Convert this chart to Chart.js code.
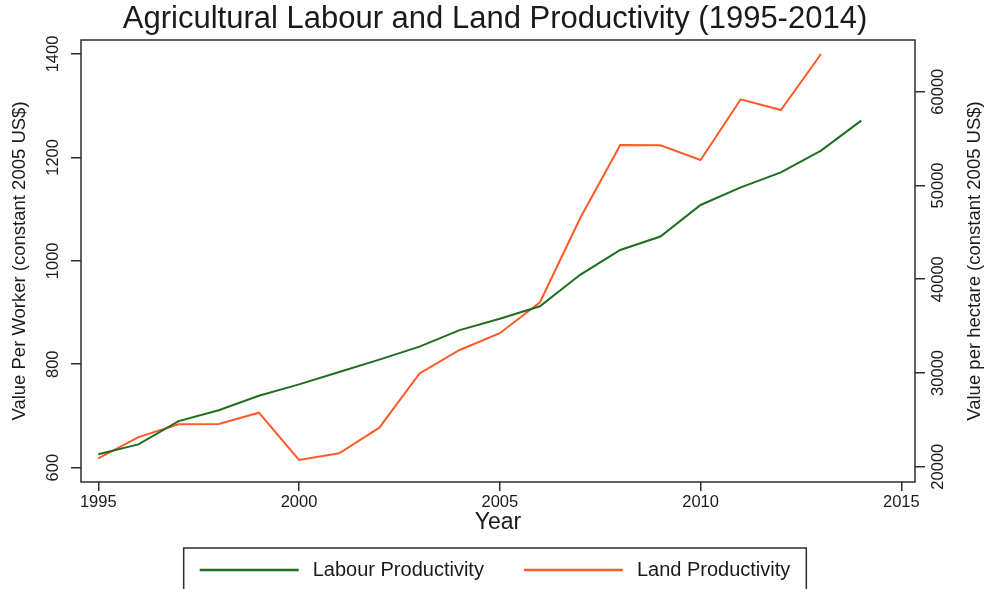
<!DOCTYPE html>
<html><head><meta charset="utf-8">
<script src="https://cdn.jsdelivr.net/npm/chart.js@4/dist/chart.umd.min.js"></script>
<style>html,body{margin:0;padding:0;background:#fff}</style>
</head><body>
<canvas id="c" width="990" height="589"></canvas>
<script>
const years = [1995,1996,1997,1998,1999,2000,2001,2002,2003,2004,2005,2006,2007,2008,2009,2010,2011,2012,2013,2014];
const labourProductivity = [626,645,690,711,739,761,785,809,834,866,888,912,973,1021,1047,1108,1142,1171,1213,1271];
const landProductivity = [20900,23150,24520,24560,25760,20720,21430,24160,29950,32450,34240,37540,46500,54320,54280,52720,59190,58050,64020];
const xTicks = [1995,2000,2005,2010,2015];
const leftTicks = [600,800,1000,1200,1400];
const rightTicks = [20000,30000,40000,50000,60000];

const FONT = '"Liberation Sans", Arial, sans-serif';
const TEXT = '#1a1a1a';
const FRAME = '#2e2e2e';
const GREEN = '#1f6e1f';
const ORANGE = '#ff5a2a';

const customPlugin = {
  id: 'custom',
  afterDraw(chart) {
    const ctx = chart.ctx;
    const a = chart.chartArea;
    ctx.save();
    // frame
    ctx.strokeStyle = FRAME;
    ctx.lineWidth = 1.5;
    ctx.strokeRect(a.left, a.top, a.right - a.left, a.bottom - a.top);
    // rotated tick labels
    ctx.fillStyle = TEXT;
    ctx.font = '16.5px ' + FONT;
    ctx.textAlign = 'center';
    ctx.textBaseline = 'middle';
    const drawRot = (txt, x, y) => {
      ctx.save(); ctx.translate(x, y); ctx.rotate(-Math.PI / 2); ctx.fillText(txt, 0, 0); ctx.restore();
    };
    const sy = chart.scales.y, sy2 = chart.scales.y2;
    sy.ticks.forEach(t => drawRot(String(t.value), 53, sy.getPixelForValue(t.value)));
    sy2.ticks.forEach(t => drawRot(String(t.value), 938, sy2.getPixelForValue(t.value)));
    // right axis title
    ctx.font = '18.5px ' + FONT;
    drawRot('Value per hectare (constant 2005 US$)', 975, (a.top + a.bottom) / 2);
    // legend
    const top = a.bottom + 66;
    const lineLen = 99, gap = 14, itemGap = 40;
    ctx.font = '20px ' + FONT;
    const items = chart.data.datasets.map(d => ({label: d.label, color: d.borderColor, w: ctx.measureText(d.label).width}));
    let total = 0;
    items.forEach((it, i) => { total += lineLen + gap + it.w + (i < items.length - 1 ? itemGap : 0); });
    const cx = chart.width / 2;
    const boxW = total + 32;
    ctx.strokeStyle = FRAME;
    ctx.lineWidth = 1.5;
    ctx.strokeRect(cx - boxW / 2, top, boxW, 60);
    let x = cx - total / 2;
    const ly = top + 22;
    ctx.textAlign = 'left';
    items.forEach(it => {
      ctx.strokeStyle = it.color;
      ctx.lineWidth = 2.5;
      ctx.beginPath(); ctx.moveTo(x, ly); ctx.lineTo(x + lineLen, ly); ctx.stroke();
      x += lineLen + gap;
      ctx.fillStyle = TEXT;
      ctx.fillText(it.label, x, ly);
      x += it.w + itemGap;
    });
    ctx.restore();
  }
};

new Chart(document.getElementById('c'), {
  type: 'line',
  data: {
    datasets: [
      { label: 'Labour Productivity', data: years.map((yr, i) => ({x: yr, y: labourProductivity[i]})),
        borderColor: GREEN, borderWidth: 2, pointRadius: 0, tension: 0, yAxisID: 'y', fill: false },
      { label: 'Land Productivity', data: landProductivity.map((v, i) => ({x: years[i], y: v})),
        borderColor: ORANGE, borderWidth: 2, pointRadius: 0, tension: 0, yAxisID: 'y2', fill: false }
    ]
  },
  options: {
    responsive: false, animation: false, devicePixelRatio: 1,
    layout: { padding: { left: 0, right: 0, top: 0, bottom: 49 } },
    plugins: {
      legend: { display: false },
      tooltip: { enabled: false },
      title: { display: true, text: 'Agricultural Labour and Land Productivity (1995-2014)', color: TEXT,
        font: { family: FONT, size: 31, weight: 'normal', lineHeight: 1.2 }, padding: { top: 1, bottom: 1.8 } }
    },
    scales: {
      x: { type: 'linear', min: 1994.57, max: 2015.34,
        afterBuildTicks: s => { s.ticks = xTicks.map(v => ({value: v})); },
        afterFit: s => { s.height = 58; },
        ticks: { callback: v => String(v), color: TEXT, font: { family: FONT, size: 16.5 }, padding: 2, maxRotation: 0, autoSkip: false },
        grid: { drawOnChartArea: false, drawTicks: true, tickLength: 9, color: FRAME, lineWidth: 1.5 },
        border: { display: false },
        title: { display: true, text: 'Year', color: TEXT, font: { family: FONT, size: 23 }, padding: { top: 0, bottom: 4 } } },
      y: { position: 'left', min: 572.3, max: 1427,
        afterBuildTicks: s => { s.ticks = leftTicks.map(v => ({value: v})); },
        afterFit: s => { s.width = 81; },
        ticks: { display: false },
        grid: { drawOnChartArea: false, drawTicks: true, tickLength: 10, color: FRAME, lineWidth: 1.5 },
        border: { display: false },
        title: { display: true, text: 'Value Per Worker (constant 2005 US$)', color: TEXT, font: { family: FONT, size: 18.5 }, padding: { top: 9, bottom: 0 } } },
      y2: { position: 'right', min: 18368, max: 65515,
        afterBuildTicks: s => { s.ticks = rightTicks.map(v => ({value: v})); },
        afterFit: s => { s.width = 75; },
        ticks: { display: false },
        grid: { drawOnChartArea: false, drawTicks: true, tickLength: 10, color: FRAME, lineWidth: 1.5 },
        border: { display: false } }
    }
  },
  plugins: [customPlugin]
});
</script>
</body></html>
